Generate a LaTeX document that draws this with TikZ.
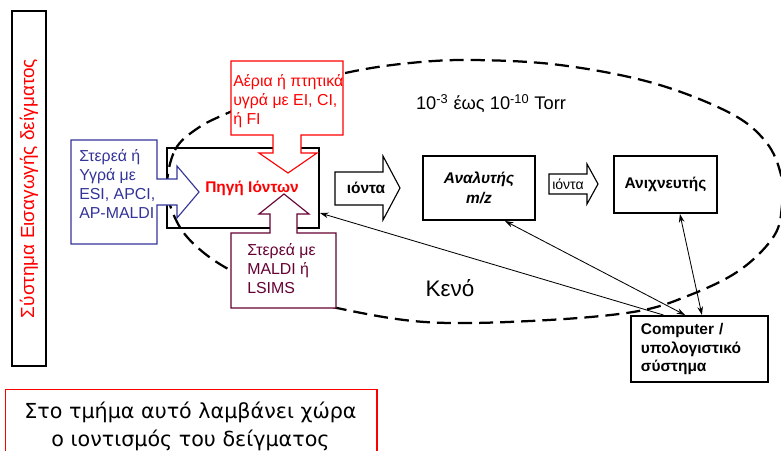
\documentclass[tikz,border=0pt]{standalone}
\usepackage{fontspec}
\setmainfont{Liberation Sans}
\newfontfamily\notefont{DejaVu Sans}
\usepackage{xcolor}
\usepackage{tikz}
\usetikzlibrary{arrows.meta}
\definecolor{srcred}{RGB}{255,0,0}
\definecolor{liqblue}{RGB}{51,51,153}
\definecolor{solpurple}{RGB}{102,0,51}

\begin{document}
\begin{tikzpicture}[x=0.025cm, y=-0.025cm, font=\fontsize{11.3}{13.7}\selectfont,
		blockbox/.style={shape=rectangle, draw, line width=1.4pt, fill=white},
		callout/.style={draw, line width=0.8pt, fill=white},
		link/.style={line width=0.6pt, {Stealth[length=6pt,width=4pt]}-{Stealth[length=6pt,width=4pt]}}]
			% Frame and sample inlet:
			\clip (0,0) rectangle (781,450);
			\node[shape=rectangle, draw, line width=1.3pt, rotate=90, minimum width=8.875cm, minimum height=0.85cm, text=srcred, font=\fontsize{13.5}{16}\selectfont](inlet) at (29,188.5){Σύστημα Εισαγωγής δείγματος};
			\node[shape=rectangle, draw, line width=1.4pt, minimum width=3.8cm, minimum height=2cm](source) at (243,188){};
			% Vacuum region:
			\draw[line width=1.6pt, dash pattern=on 10pt off 5pt] plot[smooth cycle, tension=0.6] coordinates {(167,188) (175,150) (198,128) (230,112) (285,89) (350,72) (410,63) (473,60) (560,65) (653,83) (730,113) (766,142) (781,175) (782,205) (774,236) (740,270) (690,295) (633,312) (530,321) (425,322) (337,308) (280,292) (230,270) (197,247) (177,222)};
			% Ionisation inputs:
			\draw[callout, draw=liqblue] (71,140) -- (157,140) -- (157,179) -- (177,179) -- (177,166) -- (199,192) -- (177,218) -- (177,205) -- (157,205) -- (157,244) -- (71,244) -- cycle;
			\node[anchor=west, align=left, text=liqblue, inner sep=0pt](liquid) at (79,184){Στερεά ή\\Υγρά με\\ESI, APCI,\\AP-MALDI};
			\draw[callout, draw=srcred] (231,61) -- (343,61) -- (343,135) -- (301,135) -- (301,153) -- (317,153) -- (288,173) -- (259,153) -- (273,153) -- (273,135) -- (231,135) -- cycle;
			\node[anchor=west, align=left, text=srcred, inner sep=0pt](gas) at (233,101){Αέρια ή πτητικά\\υγρά με EI, CI,\\ή FI};
			\draw[callout, draw=solpurple] (231,308) -- (336,308) -- (336,233) -- (297,233) -- (297,214) -- (309,214) -- (284,194) -- (259,214) -- (270,214) -- (270,233) -- (231,233) -- cycle;
			\node[anchor=west, align=left, text=solpurple, inner sep=0pt](solid) at (247,268.5){Στερεά με\\MALDI ή\\LSIMS};
			\node[text=srcred, font=\fontsize{11}{13.5}\selectfont\bfseries](srclabel) at (252,188){Πηγή Ιόντων};
			% Ion path:
			\draw[line width=0.8pt, fill=white] (335,172) -- (383,172) -- (383,156) -- (400,188) -- (383,220) -- (383,205) -- (335,205) -- cycle;
			\node[font=\fontsize{11}{13.5}\selectfont\bfseries](ions1) at (366,188){ιόντα};
			\node[blockbox, minimum width=2.8cm, minimum height=1.6cm, align=center, font=\fontsize{11}{14.5}\selectfont\bfseries\itshape](analyzer) at (479,188){Αναλυτής\\m/z};
			\draw[line width=0.8pt, fill=white] (549,174) -- (587,174) -- (587,164) -- (598,184) -- (587,204) -- (587,194) -- (549,194) -- cycle;
			\node[font=\fontsize{10}{12}\selectfont](ions2) at (568,184){ιόντα};
			\node[blockbox, minimum width=2.575cm, minimum height=1.425cm, font=\fontsize{11}{13.5}\selectfont\bfseries](detector) at (665.5,184.5){Ανιχνευτής};
			\node[blockbox, minimum width=3.425cm, minimum height=1.65cm, align=left, text width=2.925cm, font=\fontsize{11}{13}\selectfont\bfseries](computer) at (699.5,349){Computer /\\υπολογιστικό\\σύστημα};
			\node[font=\fontsize{13}{15}\selectfont](pressure) at (491,104){10\textsuperscript{-3} έως 10\textsuperscript{-10} Torr};
			\node[font=\fontsize{16}{19}\selectfont](vacuum) at (450,288){Κενό};
			% Control lines:
			\draw[line width=0.6pt, -{Stealth[length=6pt,width=4pt]}] ([xshift=-0.9cm]computer.north) -- ([yshift=-0.625cm]source.east);
			\draw[link] ([xshift=0.65cm]analyzer.south) -- ([xshift=-0.36cm]computer.north);
			\draw[link] ([xshift=0.36cm]detector.south) -- ([xshift=0.06cm]computer.north);
			% Note:
			\node[shape=rectangle, draw=srcred, line width=1pt, minimum width=9.275cm, minimum height=2.5cm, anchor=north west](note) at (5,389){};
			\node[align=center, font=\notefont\fontsize{14.7}{19.5}\selectfont](notetext) at (190.5,426.5){Στο τμήμα αυτό λαμβάνει χώρα\\ο ιοντισμός του δείγματος};
		\end{tikzpicture}
\end{document}
